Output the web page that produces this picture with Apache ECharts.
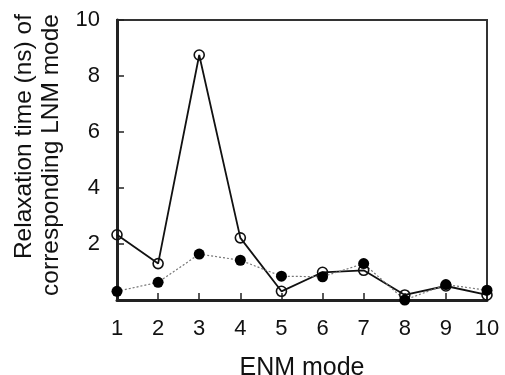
<!DOCTYPE html>
<html>
<head>
<meta charset="utf-8">
<script src="https://cdn.jsdelivr.net/npm/echarts@6/dist/echarts.min.js"></script>
<style>html,body{margin:0;padding:0;background:#fff;}#c{width:505px;height:375px;}</style>
</head>
<body>
<div id="c"></div>
<script>
var modes = [1,2,3,4,5,6,7,8,9,10];
var openValues = [2.33, 1.30, 8.75, 2.22, 0.31, 0.99, 1.06, 0.18, 0.50, 0.18];
var filledValues = [0.31, 0.63, 1.64, 1.42, 0.85, 0.83, 1.30, 0.00, 0.55, 0.35];
var yTicks = [2, 4, 6, 8, 10];
var xName = 'ENM mode';
var yName1 = 'Relaxation time (ns) of';
var yName2 = 'corresponding LNM mode';

function pairs(vals){ return modes.map(function(m,i){ return [m, vals[i]]; }); }

var font = 'Liberation Sans, Arial, Helvetica, sans-serif';
var chart = echarts.init(document.getElementById('c'), null, {renderer:'canvas'});
chart.setOption({
  animation: false,
  backgroundColor: '#fff',
  grid: {left: 117, right: 18, top: 20, bottom: 75, show: true, borderColor: '#333', borderWidth: 2,
         backgroundColor: 'transparent', outerBoundsMode: 'none', containLabel: false},
  xAxis: {
    type: 'value', min: 1, max: 10, interval: 1,
    name: xName, nameLocation: 'middle', nameGap: 56,
    nameTextStyle: {fontFamily: font, fontSize: 25, color: '#111'},
    axisLine: {show: true, onZero: false, lineStyle: {color: '#222', width: 3}},
    axisTick: {show: true, inside: true, length: 7, lineStyle: {color: '#222', width: 1.5}},
    axisLabel: {fontFamily: font, fontSize: 22, color: '#111', margin: 18},
    splitLine: {show: false}
  },
  yAxis: {
    type: 'value', min: 0, max: 10, interval: 2,
    axisLine: {show: true, onZero: false, lineStyle: {color: '#222', width: 3}},
    axisTick: {show: true, inside: true, length: 7, lineStyle: {color: '#222', width: 1.5}},
    axisLabel: {fontFamily: font, fontSize: 22, color: '#111', margin: 17,
      formatter: function(v){ return yTicks.indexOf(v) >= 0 ? String(v) : ''; }},
    splitLine: {show: false}
  },
  graphic: [
    {type: 'text', x: 24, y: 14, rotation: Math.PI/2,
     style: {text: yName1, font: '24.5px ' + font, fill: '#111', textAlign: 'right', textVerticalAlign: 'middle'}},
    {type: 'text', x: 51, y: 14, rotation: Math.PI/2,
     style: {text: yName2, font: '24.5px ' + font, fill: '#111', textAlign: 'right', textVerticalAlign: 'middle'}}
  ],
  series: [
    {type: 'line', data: pairs(openValues), symbol: 'circle', symbolSize: 10, clip: false,
     lineStyle: {color: '#111', width: 1.8},
     itemStyle: {color: 'rgba(255,255,255,0)', borderColor: '#111', borderWidth: 1.6}},
    {type: 'line', data: pairs(filledValues), symbol: 'circle', symbolSize: 11, clip: false,
     lineStyle: {color: '#777', width: 1.2, type: [2, 2]},
     itemStyle: {color: '#000', borderColor: '#000', borderWidth: 0}}
  ]
});
</script>
</body>
</html>
